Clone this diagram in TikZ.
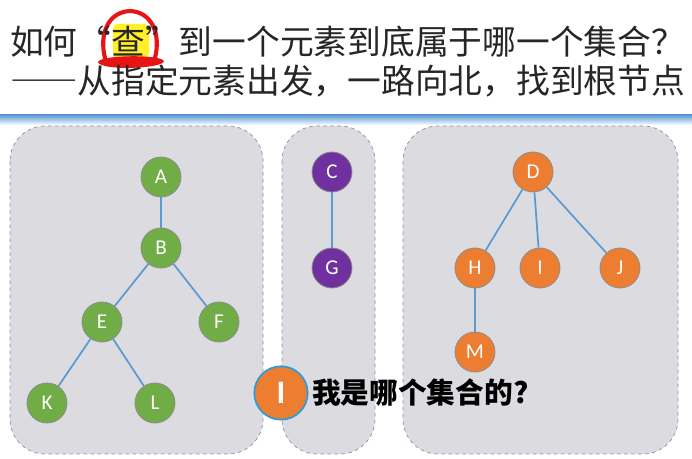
\documentclass[tikz,border=0pt]{standalone}
\usepackage{fontspec}
\setsansfont{Carlito}
\newfontfamily\cjk{Noto Sans CJK SC}
\newfontfamily\cjkwide[RawFeature={+fwid}]{Noto Sans CJK SC}
\usetikzlibrary{positioning}
\definecolor{boxgray}{RGB}{220,219,223}
\definecolor{boxline}{RGB}{128,148,172}
\definecolor{linkblue}{RGB}{91,155,213}
\definecolor{greennode}{RGB}{112,173,71}
\definecolor{purplenode}{RGB}{112,48,160}
\definecolor{orangenode}{RGB}{237,125,49}
\definecolor{ringblue}{RGB}{46,155,214}
\definecolor{markred}{RGB}{230,20,20}
\definecolor{markyellow}{RGB}{255,240,40}

\tikzset{
  setbox/.style={draw=boxline, dashed, fill=boxgray, rounded corners=1.05cm, line width=0.6pt},
  elem/.style={circle, draw=black!45, line width=0.7pt, minimum size=1.2cm, inner sep=0pt,
    text=white, font=\sffamily\fontsize{18}{18}\selectfont},
  greenelem/.style={elem, fill=greennode},
  purpleelem/.style={elem, fill=purplenode},
  orangeelem/.style={elem, fill=orangenode},
  link/.style={draw=linkblue, line width=1.5pt},
  titletext/.style={anchor=west, inner sep=0pt, font=\cjkwide\fontsize{28.8}{28.8}\selectfont, text=black!85}
}

\begin{document}
\begin{tikzpicture}[x=0.03cm, y=-0.03cm]
  \useasboundingbox (0,0) rectangle (692,459);
  \fill[white] (0,0) rectangle (692,459);

  % title with the hand-drawn mark
  \fill[markyellow, rounded corners=4pt] (113,24) rectangle (149,58);
  \draw[markred, line width=3.5pt, line cap=round]
    (105,58) .. controls (99,34) and (108,12) .. (130,11)
    .. controls (152,12) and (161,34) .. (155,58);
  \fill[markred] (98,62) .. controls (100,55) and (160,54) .. (164,61)
    .. controls (163,69) and (100,71) .. (98,62) -- cycle;
  \node[titletext] (line1) at (10,42) {如何“查”到一个元素到底属于哪一个集合？};
  \node[titletext] (line2) at (10,81) {——从指定元素出发，一路向北，找到根节点};
  \shade[top color=linkblue, bottom color=white] (0,115) rectangle (692,125);

  % the three sets
  \draw[setbox] (10,126) rectangle (263,454);
  \draw[setbox] (282,126) rectangle (375,454);
  \draw[setbox] (403,126) rectangle (678,454);

  % first set
  \node[greenelem] (A) at (161,177) {A};
  \node[greenelem] (B) at (161,248) {B};
  \node[greenelem] (E) at (102,322) {E};
  \node[greenelem] (F) at (219,322) {F};
  \node[greenelem] (K) at (47,403) {K};
  \node[greenelem] (L) at (155,403) {L};
  \draw[link] (A) -- (B);
  \draw[link] (B) -- (E);
  \draw[link] (B) -- (F);
  \draw[link] (E) -- (K);
  \draw[link] (E) -- (L);

  % second set
  \node[purpleelem] (C) at (332,172) {C};
  \node[purpleelem] (G) at (332,268) {G};
  \draw[link] (C) -- (G);

  % third set
  \node[orangeelem] (D) at (533,172) {D};
  \node[orangeelem] (H) at (475,268) {H};
  \node[orangeelem] (I) at (540,268) {I};
  \node[orangeelem] (J) at (620,268) {J};
  \node[orangeelem] (M) at (475,352) {M};
  \draw[link] (D) -- (H);
  \draw[link] (D) -- (I);
  \draw[link] (D) -- (J);
  \draw[link] (H) -- (M);

  % the question
  \node[circle, fill=orangenode, draw=ringblue, line width=1.5pt, minimum size=1.6cm, inner sep=0pt,
    text=white, font=\sffamily\bfseries\fontsize{28}{28}\selectfont] (icon) at (281,393) {I};
  \node[right=0.1cm of icon, inner sep=0pt, font=\cjk\bfseries\fontsize{24.5}{24.5}\selectfont] (ask) {我是哪个集合的?};
\end{tikzpicture}
\end{document}
